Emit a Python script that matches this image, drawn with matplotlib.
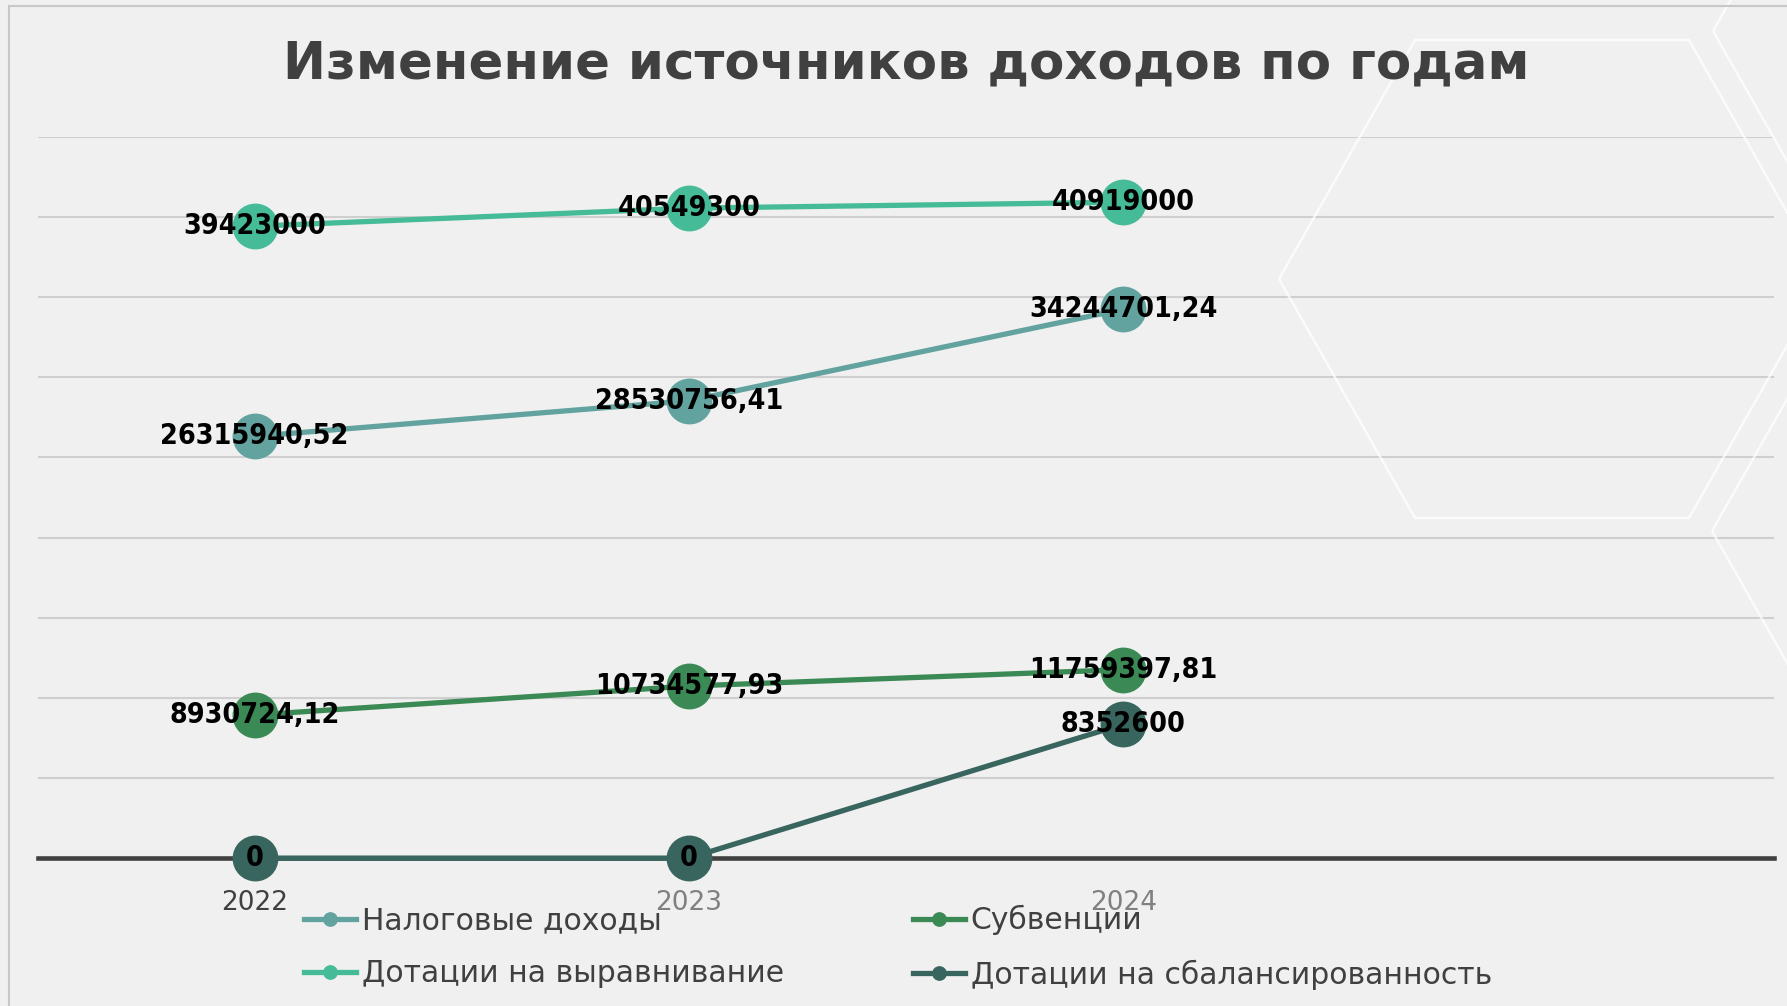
import numpy as np
import matplotlib.pyplot as plt
from matplotlib.patches import Polygon

years = ["2022", "2023", "2024"]
nalog = [26315940.52, 28530756.41, 34244701.24]
dot_vyr = [39423000, 40549300, 40919000]
subv = [8930724.12, 10734577.93, 11759397.81]
dot_sbal = [0, 0, 8352600]

# подписи как на слайде (запятая вместо точки)
def fmt(v):
    if v == int(v):
        return f"{int(v)}"
    return f"{v:.2f}".replace(".", ",")

W, H = 1787, 1006
fig = plt.figure(figsize=(W / 100, H / 100), dpi=100)
fig.patch.set_facecolor("#f0f0f0")

# фоновые шестиугольники (декор слайда), в пикселях
def hexagon(x0, y0):
    pts = [(x0, y0), (x0 + 136, y0 - 239), (x0 + 410, y0 - 239),
           (x0 + 546, y0), (x0 + 410, y0 + 239), (x0 + 136, y0 + 239)]
    pts = [(px / W, 1 - py / H) for px, py in pts]
    fig.add_artist(Polygon(pts, closed=True, fill=False, ec="white", lw=1.8,
                           alpha=0.75, transform=fig.transFigure))

hexagon(1279, 279)
hexagon(1712, 531)
hexagon(1713, 31)

ax = fig.add_axes([0.021, 0.147, 0.972, 0.717])
ax.set_facecolor("none")

x = np.arange(len(years)) + 0.5
series = [
    ("Налоговые доходы", nalog, "#62a39f"),
    ("Дотации на выравнивание", dot_vyr, "#45bb97"),
    ("Субвенции", subv, "#3b8a55"),
    ("Дотации на сбалансированность", dot_sbal, "#39655f"),
]
ax.axhline(0, color="#404040", lw=3.3, zorder=2, clip_on=False)
for name, vals, c in series:
    ax.plot(x, vals, color=c, lw=3.8, marker="o", ms=32, label=name,
            zorder=3, clip_on=False)
    for xi, v in zip(x, vals):
        ax.text(xi, v, fmt(v), ha="center", va="center", fontsize=20.5,
                fontweight="bold", fontstretch="condensed", color="black",
                zorder=4)

ax.set_xlim(0, 4)
ax.set_ylim(0, 45000000)
ax.set_yticks(np.arange(5000000, 45000001, 5000000))
ax.yaxis.grid(True, color="#cfcfcf", lw=1.5, zorder=0)
ax.tick_params(axis="y", length=0, labelleft=False)
ax.set_xticks(x)
ax.set_xticklabels(years, fontsize=19)
for t, c in zip(ax.get_xticklabels(), ["#404040", "#808080", "#808080"]):
    t.set_color(c)
ax.tick_params(axis="x", length=0, pad=23)
for s in ax.spines.values():
    s.set_visible(False)

fig.text(0.507, 0.936, "Изменение источников доходов по годам", ha="center",
         va="center", fontsize=37, fontweight="bold", color="#404040")

leg = ax.legend(ncol=2, loc="upper left", bbox_to_anchor=(0.155, 0.127),
                bbox_transform=fig.transFigure, frameon=False, fontsize=21.5,
                handlelength=1.75, markerscale=0.3, columnspacing=4.3,
                labelspacing=0.8, handletextpad=0.2, labelcolor="#404040")

# рамка слайда
fig.add_artist(plt.Line2D([0.005, 0.005], [0, 0.994], color="#c8c8c8", lw=1.5))
fig.add_artist(plt.Line2D([0.005, 1], [0.994, 0.994], color="#c8c8c8", lw=1.5))

fig.savefig("out.png", dpi=100, facecolor=fig.get_facecolor())
